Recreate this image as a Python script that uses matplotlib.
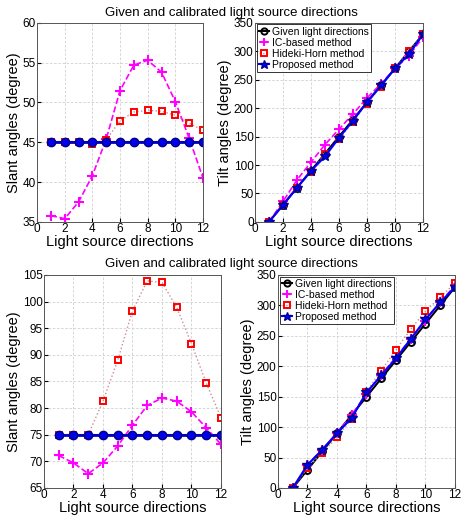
import matplotlib
matplotlib.use("Agg")
import matplotlib.pyplot as plt

plt.rcParams['font.family'] = ['Liberation Sans', 'DejaVu Sans']

x = list(range(1, 13))

# Top row (slant 45)
slant1_given = [45]*12
slant1_ic = [35.8, 35.4, 37.5, 40.8, 45.4, 51.5, 54.7, 55.3, 53.8, 50.1, 45.5, 40.5]
slant1_hh = [45, 45, 45, 44.8, 45.3, 47.7, 48.8, 49.0, 48.9, 48.4, 47.4, 46.5]
slant1_prop = [45]*12

tilt1_given = [0, 30, 60, 90, 120, 150, 180, 210, 240, 270, 300, 330]
tilt1_ic = [0, 36, 74, 105, 136, 163, 190, 218, 243, 270, 292, 325]
tilt1_hh = [0, 30, 60, 87, 120, 145, 176, 208, 238, 270, 300, 330]
tilt1_prop = [0, 30, 60, 90, 115, 148, 178, 211, 240, 270, 295, 330]

# Bottom row (slant 75)
slant2_given = [75]*12
slant2_ic = [71.1, 69.7, 67.7, 69.7, 72.9, 76.8, 80.5, 81.9, 81.3, 79.3, 76.3, 73.2]
slant2_hh = [75, 75, 75, 81.3, 89.0, 98.3, 103.9, 103.6, 98.9, 92.1, 84.7, 78.2]
slant2_prop = [75]*12

tilt2_given = [0, 30, 60, 90, 120, 150, 180, 210, 240, 270, 300, 330]
tilt2_ic = [0, 38, 63, 90, 120, 155, 186, 215, 245, 275, 305, 333]
tilt2_hh = [0, 33, 58, 83, 114, 158, 193, 227, 261, 291, 313, 337]
tilt2_prop = [0, 38, 63, 90, 115, 157, 185, 213, 245, 277, 305, 330]

title = "Given and calibrated light source directions"
labels = ["Given light directions", "IC-based method", "Hideki-Horn method", "Proposed method"]

fig = plt.figure(figsize=(4.63, 5.16), dpi=100)

TICK_FS = 8.5
LAB_FS = 10.5

def style(ax, ylim, yticks):
    ax.set_xlim(0, 12)
    ax.set_xticks(range(0, 13, 2))
    ax.set_ylim(*ylim)
    ax.set_yticks(yticks)
    ax.grid(True, color='#d0d0d0', linestyle=(0, (3, 2)), linewidth=0.6)
    ax.tick_params(direction='in', labelsize=TICK_FS, length=3, pad=1)
    for s in ax.spines.values():
        s.set_color('#555555')
        s.set_linewidth(0.7)
    ax.set_xlabel("Light source directions", fontsize=LAB_FS, labelpad=0)

def slant(ax, given, ic, hh, prop, ylim, yticks):
    ax.plot(x, given, color='black', marker='o', mfc='none', mec='black', ms=5, lw=1.5)
    ax.plot(x, ic, color='#ff00ff', ls='--', marker='+', ms=7, mew=1.5, lw=1.2)
    ax.plot(x, hh, color='#c89090', ls=':', marker='s', mfc='none', mec='red', ms=5, mew=1.4, lw=1.0)
    ax.plot(x, prop, color='#0000cc', marker='o', mfc='#0000ee', mec='#000080', ms=6, lw=2)
    style(ax, ylim, yticks)
    ax.set_ylabel("Slant angles (degree)", fontsize=LAB_FS, labelpad=1)

def tilt(ax, given, ic, hh, prop):
    l1, = ax.plot(x, given, color='black', marker='o', mfc='none', mec='black', ms=5, mew=1.4, lw=1.5)
    l2, = ax.plot(x, ic, color='#ff00ff', ls='--', marker='+', ms=6.5, mew=1.5, lw=1.2)
    l3, = ax.plot(x, hh, color='#c89090', ls=':', marker='s', mfc='none', mec='red', ms=5, mew=1.4, lw=1.0)
    l4, = ax.plot(x, prop, color='#0000ff', marker='*', mfc='#0000ff', mec='#000099', ms=7, lw=1.5)
    style(ax, (0, 350), range(0, 351, 50))
    ax.set_ylabel("Tilt angles (degree)", fontsize=LAB_FS, labelpad=1)
    leg = ax.legend([l1, l2, l3, l4], labels, loc='upper left', fontsize=7.5,
                    handlelength=1.0, handletextpad=0.3, borderpad=0.2, labelspacing=0.1,
                    borderaxespad=0.15, frameon=True, fancybox=False, numpoints=1, markerscale=0.9)
    leg.get_frame().set_edgecolor('black')
    leg.get_frame().set_linewidth(0.7)

ax1 = fig.add_axes([0.080, 0.570, 0.3585, 0.3857])
slant(ax1, slant1_given, slant1_ic, slant1_hh, slant1_prop, (35, 60), range(35, 61, 5))
ax2 = fig.add_axes([0.5508, 0.570, 0.3629, 0.3857])
tilt(ax2, tilt1_given, tilt1_ic, tilt1_hh, tilt1_prop)
ax3 = fig.add_axes([0.095, 0.0543, 0.3823, 0.4128])
slant(ax3, slant2_given, slant2_ic, slant2_hh, slant2_prop, (65, 105), range(65, 106, 5))
ax4 = fig.add_axes([0.6004, 0.0543, 0.3823, 0.4128])
tilt(ax4, tilt2_given, tilt2_ic, tilt2_hh, tilt2_prop)

fig.text(0.5, 0.975, title, ha='center', va='center', fontsize=9.5)
fig.text(0.5, 0.488, title, ha='center', va='center', fontsize=9.5)

fig.savefig("out.png", dpi=100, facecolor='white')
